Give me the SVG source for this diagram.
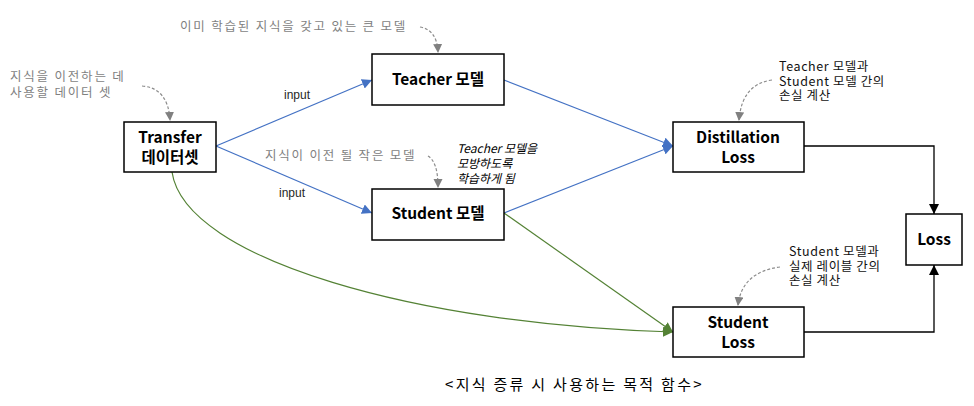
<svg xmlns="http://www.w3.org/2000/svg" width="974" height="406" viewBox="0 0 974 406">
<style>
.box{fill:#fff;stroke:#000;stroke-width:1.5}
.lbl{font-family:"Noto Sans CJK KR","Noto Sans",sans-serif;font-weight:bold;font-size:15.5px;fill:#000;text-anchor:middle}
.ann{font-family:"Noto Sans CJK KR","Noto Sans",sans-serif;font-size:12.5px;fill:#7f7f7f;letter-spacing:1.8px}
.ann2{font-family:"Noto Sans CJK KR","Noto Sans",sans-serif;font-size:12.5px;fill:#111;letter-spacing:0.6px}
.it{font-family:"Noto Sans CJK KR","Noto Sans",sans-serif;font-size:12px;font-style:italic;fill:#000}
.inp{font-family:"Liberation Sans","Noto Sans",sans-serif;font-size:12px;fill:#262626}
.cap{font-family:"Noto Sans CJK KR","Noto Sans",sans-serif;font-size:15px;fill:#000;letter-spacing:2.3px}
.blue{fill:none;stroke:#4472C4;stroke-width:1.2;marker-end:url(#ab)}
.green{fill:none;stroke:#548235;stroke-width:1.2;marker-end:url(#ag)}
.blk{fill:none;stroke:#000;stroke-width:1.3;marker-end:url(#ak)}
.dash{fill:none;stroke:#8c8c8c;stroke-width:1.2;stroke-dasharray:3 2;marker-end:url(#ad)}
</style>
<defs>
<marker id="ab" markerUnits="userSpaceOnUse" markerWidth="12" markerHeight="10" refX="10" refY="5" orient="auto"><path d="M0,0 L10,5 L0,10 Z" fill="#4472C4"/></marker>
<marker id="ag" markerUnits="userSpaceOnUse" markerWidth="12" markerHeight="10" refX="10" refY="5" orient="auto"><path d="M0,0 L10,5 L0,10 Z" fill="#548235"/></marker>
<marker id="ak" markerUnits="userSpaceOnUse" markerWidth="12" markerHeight="10" refX="10" refY="5" orient="auto"><path d="M0,0 L10,5 L0,10 Z" fill="#000"/></marker>
<marker id="ad" markerUnits="userSpaceOnUse" markerWidth="10" markerHeight="10" refX="8" refY="4.5" orient="auto"><path d="M0,0 L9,4.5 L0,9 Z" fill="#808080"/></marker>
</defs>
<rect width="974" height="406" fill="#fff"/>
<g id="connectors">
<path class="blue" d="M216,146 L372,80"/>
<path class="blue" d="M216,146 L372,213"/>
<path class="blue" d="M504,80 L673,146"/>
<path class="blue" d="M504,213 L673,146"/>
<path class="green" d="M504,213 L673,332"/>
<path class="green" d="M172,172 C185,260 420,325 673,332"/>
<path class="blk" d="M804,146 H934 V214"/>
<path class="blk" d="M804,332 H934 V265"/>
<path class="dash" d="M420,27 Q437,30 438,52"/>
<path class="dash" d="M142,86 Q168,88 170,120"/>
<path class="dash" d="M428,156 Q438,162 438,187"/>
<path class="dash" d="M772,80 Q742,84 739,120"/>
<path class="dash" d="M780,267 Q742,272 738,305"/>
<text class="inp" x="284" y="99">input</text>
<text class="inp" x="279" y="197">input</text>
</g>
<g id="transfer"><rect class="box" x="124" y="122" width="92" height="50"/><text class="lbl" x="170" y="143">Transfer<tspan x="170" dy="20">데이터셋</tspan></text></g>
<g id="teacher"><rect class="box" x="372" y="54" width="132" height="51"/><text class="lbl" x="438" y="85">Teacher 모델</text></g>
<g id="student"><rect class="box" x="372" y="189" width="132" height="51"/><text class="lbl" x="438" y="219">Student 모델</text></g>
<g id="distillation"><rect class="box" x="673" y="122" width="131" height="50"/><text class="lbl" x="738" y="143">Distillation<tspan x="738" dy="20">Loss</tspan></text></g>
<g id="studentloss"><rect class="box" x="673" y="307" width="131" height="50"/><text class="lbl" x="738" y="328">Student<tspan x="738" dy="20">Loss</tspan></text></g>
<g id="loss"><rect class="box" x="906" y="214" width="56" height="51"/><text class="lbl" x="934" y="245">Loss</text></g>
<g id="annotations">
<text class="ann" x="180" y="31">이미 학습된 지식을 갖고 있는 큰 모델</text>
<text class="ann" x="10" y="81">지식을 이전하는 데<tspan x="10" dy="15.5">사용할 데이터 셋</tspan></text>
<text class="ann" x="265" y="160">지식이 이전 될 작은 모델</text>
<text class="it" x="457" y="153">Teacher 모델을<tspan x="457" dy="15">모방하도록</tspan><tspan x="457" dy="15">학습하게 됨</tspan></text>
<text class="ann2" x="779" y="71">Teacher 모델과<tspan x="779" dy="14.5">Student 모델 간의</tspan><tspan x="779" dy="14.5">손실 계산</tspan></text>
<text class="ann2" x="789" y="256">Student 모델과<tspan x="789" dy="14.5">실제 레이블 간의</tspan><tspan x="789" dy="14.5">손실 계산</tspan></text>
<text class="cap" x="445" y="390">&lt;지식 증류 시 사용하는 목적 함수&gt;</text>
</g>
</svg>
